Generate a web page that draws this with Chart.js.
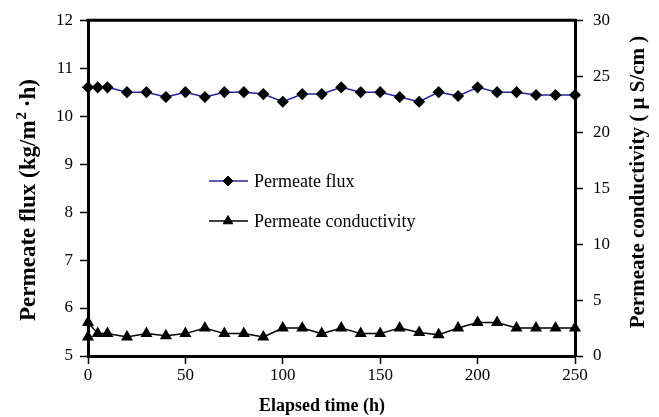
<!DOCTYPE html>
<html>
<head>
<meta charset="utf-8">
<script src="https://cdn.jsdelivr.net/npm/chart.js@4.4.1/dist/chart.umd.min.js"></script>
<style>
  html, body { margin: 0; padding: 0; background: #fff; }
  #wrap { width: 659px; height: 417px; }
</style>
</head>
<body>
<div id="wrap"><canvas id="myChart" width="659" height="417"></canvas></div>
<script>
// elapsed time (h)
var fluxHours = [0, 5, 10, 20, 30, 40, 50, 60, 70, 80, 90, 100, 110, 120, 130, 140, 150, 160, 170, 180, 190, 200, 210, 220, 230, 240, 250];
var fluxValues = [10.6, 10.6, 10.6, 10.5, 10.5, 10.4, 10.5, 10.4, 10.5, 10.5, 10.46, 10.3, 10.46, 10.46, 10.6, 10.5, 10.5, 10.4, 10.3, 10.5, 10.42, 10.6, 10.5, 10.5, 10.44, 10.44, 10.44];

var condHours = [0, 0, 5, 10, 20, 30, 40, 50, 60, 70, 80, 90, 100, 110, 120, 130, 140, 150, 160, 170, 180, 190, 200, 210, 220, 230, 240, 250];
var condValues = [1.7, 3.0, 2.0, 2.0, 1.7, 2.0, 1.8, 2.0, 2.5, 2.0, 2.0, 1.7, 2.5, 2.5, 2.0, 2.5, 2.0, 2.0, 2.5, 2.1, 1.9, 2.5, 3.0, 3.0, 2.5, 2.5, 2.5, 2.5];

var labels = ["Permeate flux", "Permeate conductivity"];
var xTitle = "Elapsed time (h)";
// left title pieces: text, superscript, text
var leftTitle = ["Permeate flux (kg/m", "2", " \u00b7h)"];
var rightTitle = "Permeate conductivity ( \u00b5 S/cm )";

var serif = "'Liberation Serif', 'Times New Roman', serif";

function pts(xs, ys) {
  return xs.map(function (x, i) { return { x: x, y: ys[i] }; });
}

// frame on top, axis titles, in-plot legend
var extras = {
  id: "extras",
  afterDatasetsDraw: function (chart) {
    var ctx = chart.ctx;
    var a = chart.chartArea;
    ctx.save();
    ctx.strokeStyle = "#000";
    ctx.lineWidth = 3;
    ctx.beginPath();
    ctx.moveTo(a.left - 1.5, a.top);
    ctx.lineTo(a.right + 1.5, a.top);
    ctx.stroke();

    ctx.fillStyle = "#000";
    ctx.textAlign = "center";
    ctx.textBaseline = "middle";
    ctx.font = "bold 18px " + serif;
    ctx.fillText(xTitle, 322, 406);
    ctx.restore();

    // right axis title, reads bottom to top
    ctx.save();
    ctx.fillStyle = "#000";
    ctx.textAlign = "center";
    ctx.textBaseline = "middle";
    ctx.translate(639, 182);
    ctx.rotate(-Math.PI / 2);
    ctx.font = "bold 21px " + serif;
    ctx.fillText(rightTitle, 0, 0);
    ctx.restore();

    // left axis title with superscript
    ctx.save();
    ctx.fillStyle = "#000";
    ctx.textAlign = "left";
    ctx.textBaseline = "alphabetic";
    ctx.translate(35, 200);
    ctx.rotate(-Math.PI / 2);
    var big = "bold 23px " + serif, small = "bold 15px " + serif;
    ctx.font = big;
    var w0 = ctx.measureText(leftTitle[0]).width;
    var w2 = ctx.measureText(leftTitle[2]).width;
    ctx.font = small;
    var w1 = ctx.measureText(leftTitle[1]).width;
    var x = -(w0 + w1 + w2) / 2;
    ctx.font = big;
    ctx.fillText(leftTitle[0], x, 0);
    ctx.font = small;
    ctx.fillText(leftTitle[1], x + w0 + 1, -9);
    ctx.font = big;
    ctx.fillText(leftTitle[2], x + w0 + w1, 0);
    ctx.restore();

    // legend
    var rows = [181, 221];
    chart.data.datasets.forEach(function (ds, i) {
      var y = rows[i];
      ctx.save();
      ctx.strokeStyle = ds.borderColor;
      ctx.lineWidth = 1.5;
      ctx.beginPath();
      ctx.moveTo(209, y);
      ctx.lineTo(248, y);
      ctx.stroke();
      ctx.fillStyle = "#000";
      ctx.strokeStyle = "#000";
      ctx.lineWidth = 1;
      Chart.helpers.drawPoint(ctx, { pointStyle: ds.pointStyle, radius: ds.pointRadius, rotation: 0, borderWidth: 1 }, 228, y);
      ctx.font = "18px " + serif;
      ctx.textAlign = "left";
      ctx.textBaseline = "middle";
      ctx.fillText(ds.label, 254, y + 1);
      ctx.restore();
    });
  }
};

var tickFont = { family: serif, size: 17 };

new Chart(document.getElementById("myChart").getContext("2d"), {
  type: "line",
  data: {
    datasets: [
      {
        label: labels[0],
        data: pts(fluxHours, fluxValues),
        yAxisID: "y",
        borderColor: "#2424a0",
        borderWidth: 1.5,
        pointStyle: "rectRot",
        pointRadius: 5,
        pointBackgroundColor: "#000",
        pointBorderColor: "#000",
        clip: false
      },
      {
        label: labels[1],
        data: pts(condHours, condValues),
        yAxisID: "y2",
        borderColor: "#000",
        borderWidth: 1.5,
        pointStyle: "triangle",
        pointRadius: 5.5,
        pointBackgroundColor: "#000",
        pointBorderColor: "#000",
        clip: false
      }
    ]
  },
  options: {
    responsive: false,
    animation: false,
    layout: { padding: { top: 18, left: 0, right: 0, bottom: 0 } },
    plugins: { legend: { display: false }, tooltip: { enabled: false } },
    scales: {
      x: {
        type: "linear",
        min: 0,
        max: 250,
        afterFit: function (s) { s.height = 61; },
        ticks: { stepSize: 50, color: "#000", font: tickFont, padding: 1, maxRotation: 0 },
        grid: { drawOnChartArea: false, color: "#000", tickLength: 8, tickWidth: 1.5 },
        border: { color: "#000", width: 3 }
      },
      y: {
        position: "left",
        min: 5,
        max: 12,
        afterFit: function (s) { s.width = 88; },
        ticks: { stepSize: 1, color: "#000", font: tickFont, padding: 7 },
        grid: { drawOnChartArea: false, color: "#000", tickLength: 8, tickWidth: 1.5 },
        border: { color: "#000", width: 3 }
      },
      y2: {
        position: "right",
        min: 0,
        max: 30,
        afterFit: function (s) { s.width = 84; },
        ticks: { stepSize: 5, color: "#000", font: tickFont, padding: 10 },
        grid: { drawOnChartArea: false, color: "#000", tickLength: 8, tickWidth: 1.5 },
        border: { color: "#000", width: 3 }
      }
    }
  },
  plugins: [extras]
});
</script>
</body>
</html>
